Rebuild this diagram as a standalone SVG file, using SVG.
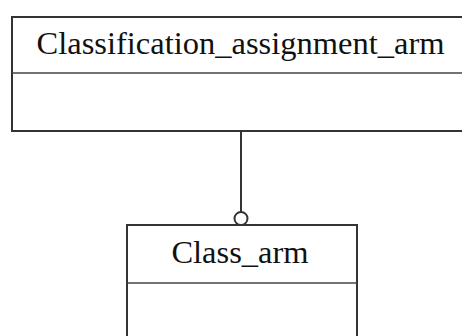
<svg xmlns="http://www.w3.org/2000/svg" width="462" height="336" viewBox="0 0 462 336">
<style>
.box{fill:#fff;stroke:#333;stroke-width:2}
.div{stroke:#444;stroke-width:1.5}
.lbl{font-family:"Liberation Serif","Times New Roman",serif;font-size:32.5px;fill:#111;text-anchor:middle}
.conn{stroke:#333;stroke-width:2;fill:none}
</style>
<rect width="462" height="336" fill="#fff"/>
<g id="Classification_assignment_arm">
<rect class="box" x="12" y="17" width="470" height="114"/>
<line class="div" x1="12" y1="73" x2="462" y2="73"/>
<text class="lbl" x="240.5" y="54">Classification_assignment_arm</text>
</g>
<g id="Class_arm">
<rect class="box" x="127" y="225" width="230" height="130"/>
<line class="div" x1="127" y1="283" x2="357" y2="283"/>
<text class="lbl" x="240" y="263">Class_arm</text>
</g>
<g id="connectors">
<line class="conn" x1="241" y1="131" x2="241" y2="212"/>
<circle class="conn" cx="241" cy="218.5" r="6.5" fill="#fff"/>
</g>
</svg>
